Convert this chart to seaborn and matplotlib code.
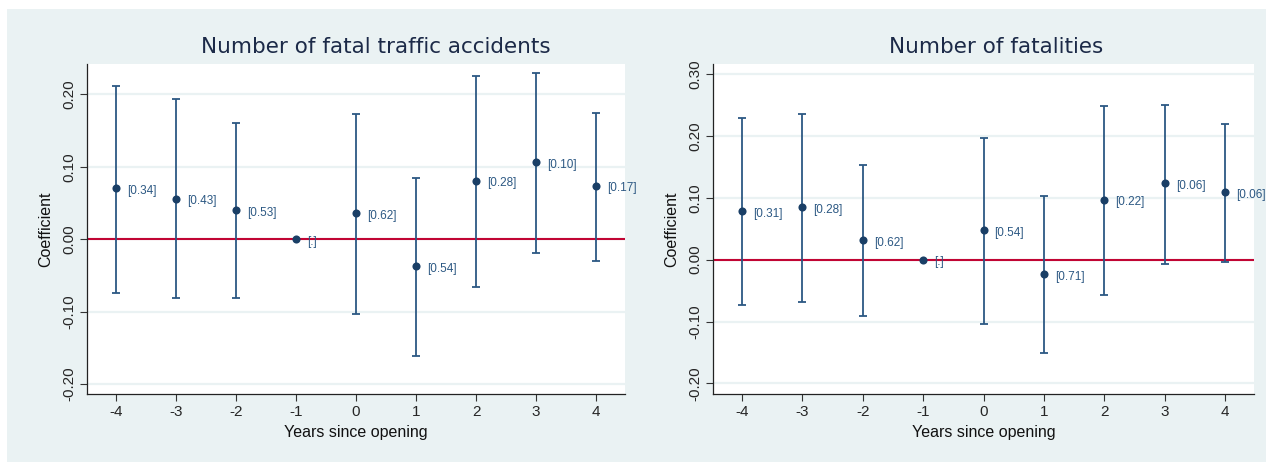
import numpy as np
import pandas as pd
import matplotlib
matplotlib.use("Agg")
import matplotlib.pyplot as plt
import seaborn as sns
from matplotlib.patches import Rectangle

# event-study estimates
years = [-4, -3, -2, -1, 0, 1, 2, 3, 4]

acc_coef = [0.071, 0.056, 0.040, 0.0, 0.036, -0.037, 0.081, 0.106, 0.074]
acc_lo = [-0.074, -0.082, -0.082, np.nan, -0.104, -0.161, -0.066, -0.019, -0.030]
acc_hi = [0.212, 0.193, 0.160, np.nan, 0.173, 0.084, 0.225, 0.229, 0.174]
acc_p = ["[0.34]", "[0.43]", "[0.53]", "[.]", "[0.62]", "[0.54]", "[0.28]", "[0.10]", "[0.17]"]

fat_coef = [0.078, 0.085, 0.032, 0.0, 0.048, -0.023, 0.097, 0.123, 0.109]
fat_lo = [-0.074, -0.068, -0.091, np.nan, -0.104, -0.151, -0.057, -0.007, -0.004]
fat_hi = [0.228, 0.236, 0.153, np.nan, 0.197, 0.103, 0.248, 0.249, 0.219]
fat_p = ["[0.31]", "[0.28]", "[0.62]", "[.]", "[0.54]", "[0.71]", "[0.22]", "[0.06]", "[0.06]"]

sns.set_style("white")
plt.rcParams['font.family'] = ['Liberation Sans', 'DejaVu Sans']

navy = "#1a3f66"
bar_col = "#2c5883"
bg = "#eaf2f3"
red = "#c10534"

fig = plt.figure(figsize=(12.66, 4.65), dpi=100)
fig.patches.append(Rectangle((7 / 1266, 3 / 465), 1 - 7 / 1266, 1 - 12 / 465,
                             transform=fig.transFigure, facecolor=bg,
                             edgecolor="none", zorder=-10))

panels = [
    ("Number of fatal traffic accidents", acc_coef, acc_lo, acc_hi, acc_p,
     [87, 625], (-0.214, 0.242), [0.2, 0.1, 0.0, -0.1, -0.2], 0.537),
    ("Number of fatalities", fat_coef, fat_lo, fat_hi, fat_p,
     [713, 1254], (-0.217, 0.316), [0.3, 0.2, 0.1, 0.0, -0.1, -0.2], 0.523),
]

for title, coef, lo, hi, pv, xr, ylim, yt, tx in panels:
    ax = fig.add_axes([xr[0] / 1266, 1 - 394 / 465, (xr[1] - xr[0]) / 1266, 330 / 465])
    df = pd.DataFrame({"year": years, "coef": coef, "lo": lo, "hi": hi, "p": pv})

    for t in yt:
        ax.axhline(t, color=bg, lw=1.6, zorder=0)
    ax.axhline(0, color=red, lw=1.5, zorder=1)

    d = df.dropna()
    ax.errorbar(d["year"], d["coef"],
                yerr=[d["coef"] - d["lo"], d["hi"] - d["coef"]],
                fmt="none", ecolor=bar_col, elinewidth=1.3, capsize=3, capthick=1.3, zorder=2)
    sns.scatterplot(data=df, x="year", y="coef", color=navy, s=34,
                    edgecolor=navy, linewidth=0, ax=ax, zorder=3)
    for _, r in df.iterrows():
        ax.annotate(r["p"], (r["year"], r["coef"]), xytext=(8, -2),
                    textcoords="offset points", fontsize=8.5, color=bar_col,
                    va="center", ha="left", zorder=4)

    ax.set_xlim(-4.48, 4.48)
    ax.set_ylim(*ylim)
    ax.set_xticks(years)
    ax.set_xticklabels([str(y) for y in years], fontsize=11)
    ax.set_yticks(yt)
    ax.set_yticklabels([f"{t:.2f}" for t in yt], fontsize=11, rotation=90, va="center")
    ax.tick_params(axis="both", direction="out", length=5, width=0.8, color="#333333",
                   left=True, bottom=True, pad=3)
    for s in ["top", "right"]:
        ax.spines[s].set_visible(False)
    for s in ["left", "bottom"]:
        ax.spines[s].set_color("#222222")
        ax.spines[s].set_linewidth(0.9)
    ax.set_facecolor("white")
    ax.set_xlabel("Years since opening", fontsize=11.5, color="#111111")
    ax.set_ylabel("Coefficient", fontsize=11.5, color="#111111", labelpad=6)
    ax.set_title(title, fontsize=15.5, color="#1c2a48", x=tx, pad=8,
                 family=["DejaVu Sans"])

fig.savefig("out.png", dpi=100, facecolor="white")
